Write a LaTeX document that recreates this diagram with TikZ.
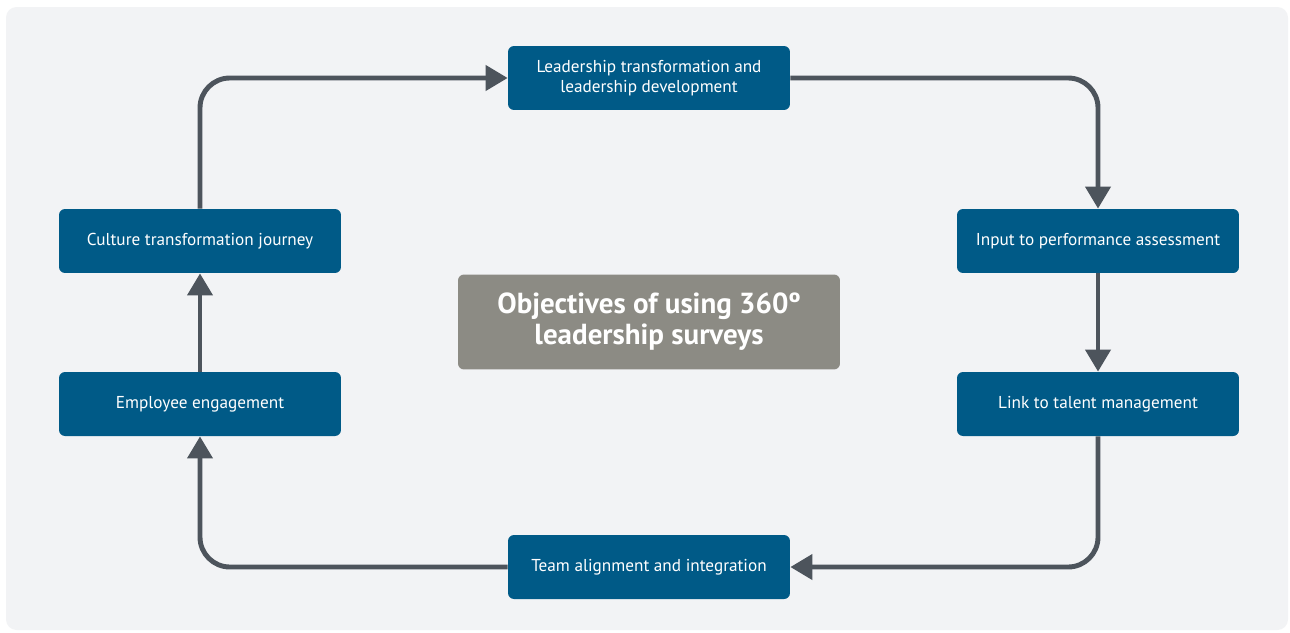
\documentclass[tikz,border=0pt]{standalone}
\usepackage{fontspec}
\setmainfont{PT Sans}
\usetikzlibrary{arrows.meta}
\definecolor{boxblue}{HTML}{005A87}
\definecolor{hubgray}{HTML}{8C8B84}
\definecolor{linegray}{HTML}{4D545C}
\definecolor{bggray}{HTML}{F2F3F5}
\tikzset{
  goalbox/.style={fill=boxblue, text=white, rounded corners=3.4pt, minimum width=5.64cm, minimum height=1.28cm, align=center, font=\fontsize{9.8}{11.4}\selectfont},
  hubbox/.style={fill=hubgray, text=white, rounded corners=3.4pt, minimum width=7.64cm, minimum height=1.9cm, align=center, font=\fontsize{16.5}{17.6}\selectfont\bfseries},
  flow/.style={draw=linegray, line width=2.8pt, rounded corners=17pt, -{Triangle[width=14pt,length=12.5pt]}}
}
\begin{document}
\begin{tikzpicture}[x=0.02cm, y=-0.02cm]
  \useasboundingbox (0,0) rectangle (1290,632);
  \fill [bggray, rounded corners=6pt] (6,7) rectangle (1288,630);
  \node [goalbox] (lead) at (649,78) {Leadership transformation and\\leadership development};
  \node [goalbox] (input) at (1098,241) {Input to performance assessment};
  \node [goalbox] (link) at (1098,404) {Link to talent management};
  \node [goalbox] (team) at (649,567) {Team alignment and integration};
  \node [goalbox] (employee) at (200,404) {Employee engagement};
  \node [goalbox] (culture) at (200,241) {Culture transformation journey};
  \node [hubbox] (hub) at (649,322) {Objectives of using 360º\\leadership surveys};
  \draw [flow] (culture.north) |- (lead.west);
  \draw [flow] (lead.east) -| (input.north);
  \draw [flow] (input.south) -- (link.north);
  \draw [flow] (link.south) |- (team.east);
  \draw [flow] (team.west) -| (employee.south);
  \draw [flow] (employee.north) -- (culture.south);
\end{tikzpicture}
\end{document}
